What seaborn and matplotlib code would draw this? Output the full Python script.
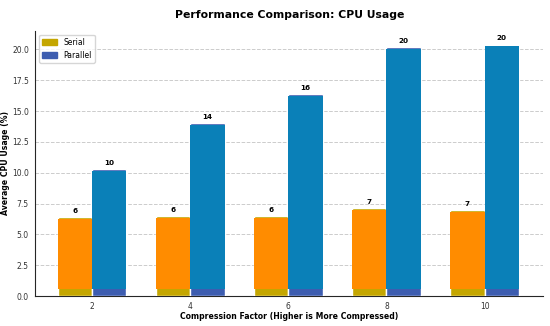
import matplotlib
matplotlib.use("Agg")
import matplotlib.pyplot as plt
import matplotlib.patches as mpatches
import pandas as pd
import seaborn as sns

factors = [2, 4, 6, 8, 10]
serial_cpu = [6.4, 6.45, 6.45, 7.1, 7.0]
parallel_cpu = [10.3, 14.0, 16.35, 20.2, 20.4]
modes = ["Serial", "Parallel"]

df = pd.DataFrame({
    "factor": factors * 2,
    "cpu": serial_cpu + parallel_cpu,
    "mode": ["Serial"] * len(factors) + ["Parallel"] * len(factors),
})

sns.set_style("white")
plt.rcParams.update({"text.color": "black", "axes.labelcolor": "black",
                     "xtick.color": "#333333", "ytick.color": "#333333"})
fig, ax = plt.subplots(figsize=(5.5, 3.26), dpi=100)

legend_colors = {"Serial": "#c4a600", "Parallel": "#3d5db0"}
fill_colors = {"Serial": "#ff8c00", "Parallel": "#0a80b8"}

sns.barplot(data=df, x="factor", y="cpu", hue="mode", hue_order=modes,
            palette=legend_colors, width=0.7, ax=ax, legend=False,
            saturation=1, zorder=3)

# overlay fill on top of the seaborn bars, leaving thin bands of the base colour
for mode, container in zip(modes, ax.containers):
    for bar in list(container):
        h = bar.get_height()
        ax.add_patch(mpatches.Rectangle((bar.get_x(), 0.6), bar.get_width(), h - 0.75,
                                        color=fill_colors[mode], zorder=4, lw=0))
        ax.text(bar.get_x() + bar.get_width() / 2, h + 0.25, f"{h:.0f}",
                ha="center", va="bottom", fontsize=5.2, fontweight="bold", zorder=5)

handles = [mpatches.Patch(color=legend_colors[m], label=m) for m in modes]
ax.legend(handles=handles, loc="upper left", fontsize=5.5, frameon=True,
          handlelength=2, borderaxespad=0.5)

ax.set_xlim(-0.58, 4.6)
ax.set_ylim(0, 21.5)
ax.set_yticks([0, 2.5, 5, 7.5, 10, 12.5, 15, 17.5, 20])
ax.yaxis.grid(True, linestyle="--", color="#cccccc", linewidth=0.7, zorder=0)
ax.set_axisbelow(True)
sns.despine(ax=ax)
ax.tick_params(labelsize=5.5, length=3, pad=1.5)
ax.set_title("Performance Comparison: CPU Usage", fontsize=7.8, fontweight="bold", pad=9)
ax.set_xlabel("Compression Factor (Higher is More Compressed)", fontsize=5.6,
              fontweight="bold")
ax.xaxis.set_label_coords(0.5, -0.06)
ax.set_ylabel("Average CPU Usage (%)", fontsize=5.6, fontweight="bold")
ax.yaxis.set_label_coords(-0.05, 0.5)

plt.subplots_adjust(left=0.064, right=0.988, top=0.905, bottom=0.092)
fig.savefig("out.png", dpi=100)
